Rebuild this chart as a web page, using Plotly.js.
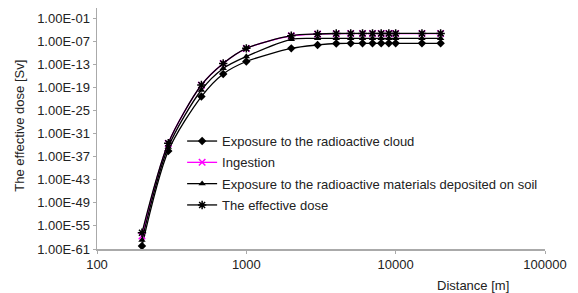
<!DOCTYPE html>
<html>
<head>
<meta charset="utf-8">
<script src="https://cdn.plot.ly/plotly-3.0.1.min.js"></script>
<style>html,body{margin:0;padding:0;background:#fff;}#chart{width:578px;height:293px;}</style>
</head>
<body>
<div id="chart"></div>
<script>
const distance = [200, 300, 500, 700, 1000, 2000, 3000, 4000, 5000, 6000, 7000, 8000, 9000, 10000, 15000, 20000];
const cloud = [6e-61, 3e-36, 4e-22, 3e-16, 5e-13, 1.3e-9, 1e-8, 2.4e-8, 2.6e-8, 2.7e-8, 2.7e-8, 2.7e-8, 2.7e-8, 2.7e-8, 2.7e-8, 2.7e-8];
const ingestion = [2.5e-58, 2.5e-34, 3.5e-19, 1.5e-13, 1.2e-9, 2.3e-6, 6.5e-6, 8.5e-6, 9e-6, 9e-6, 9e-6, 9e-6, 9e-6, 9e-6, 9e-6, 9e-6];
const soil = [2e-59, 3e-35, 2e-20, 8e-15, 1e-11, 3e-7, 5e-7, 5.4e-7, 5.4e-7, 5.4e-7, 5.4e-7, 5.4e-7, 5.4e-7, 5.4e-7, 5.4e-7, 5.4e-7];
const effective = [1.6e-57, 3e-34, 4e-19, 1.6e-13, 1.3e-9, 2.6e-6, 7e-6, 9.5e-6, 1e-5, 1e-5, 1e-5, 1e-5, 1e-5, 1e-5, 1e-5, 1e-5];
const seriesNames = ["Exposure to the radioactive cloud", "Ingestion", "Exposure to the radioactive materials deposited on soil", "The effective dose"];
const yTickVals = [1e-61, 1e-55, 1e-49, 1e-43, 1e-37, 1e-31, 1e-25, 1e-19, 1e-13, 1e-7, 1e-1];
const yTickText = ["1.00E-61", "1.00E-55", "1.00E-49", "1.00E-43", "1.00E-37", "1.00E-31", "1.00E-25", "1.00E-19", "1.00E-13", "1.00E-07", "1.00E-01"];
const xTickVals = [100, 1000, 10000, 100000];
const xTickText = ["100", "1000", "10000", "100000"];

const FONT = "Liberation Sans, Arial, sans-serif";
function tr(y, name, color, symbol, size, group) {
  return {
    x: distance, y: y, name: name, type: "scatter", mode: "lines+markers",
    line: {color: color, width: 1.3, shape: "spline", smoothing: 0.8},
    marker: {symbol: symbol, size: size, color: color, line: {color: color, width: symbol.indexOf("x")===0 || symbol.indexOf("asterisk")===0 ? 1.5 : 0}},
    legendgroup: group
  };
}
const data = [
  tr(cloud, seriesNames[0], "#000000", "diamond", 6.5, "a"),
  tr(ingestion, seriesNames[1], "#ff00ff", "x-thin-open", 6.5, "b"),
  tr(soil, seriesNames[2], "#000000", "triangle-up", 6.5, "c"),
  tr(effective, seriesNames[3], "#000000", "asterisk-open", 7, "d")
];
const layout = {
  width: 578, height: 293,
  margin: {l: 97, r: 33, t: 8, b: 44, pad: 0},
  paper_bgcolor: "#fff", plot_bgcolor: "#fff",
  font: {family: FONT, size: 13, color: "#222"},
  showlegend: true,
  legend: {x: 0.19, xanchor: "left", y: 0.51, yanchor: "top", bgcolor: "rgba(0,0,0,0)",
           font: {family: FONT, size: 13, color: "#222"}, tracegroupgap: 1.4, itemwidth: 30},
  xaxis: {type: "log", range: [2, 5], tickvals: xTickVals, ticktext: xTickText,
          showline: true, linecolor: "#aaaaaa", linewidth: 1.5, ticks: "outside", ticklen: 3, tickcolor: "#aaaaaa",
          showgrid: false, zeroline: false, tickfont: {size: 13, color: "#222"}},
  yaxis: {type: "log", range: [-61, 1.6], tickvals: yTickVals, ticktext: yTickText,
          showline: true, linecolor: "#aaaaaa", linewidth: 1.5, ticks: "outside", ticklen: 3, tickcolor: "#aaaaaa",
          showgrid: false, zeroline: false, tickfont: {size: 13, color: "#222"}},
  annotations: [
    {text: "Distance [m]", xref: "paper", yref: "paper", x: 0.84, y: -0.15, xanchor: "center", yanchor: "middle", showarrow: false, font: {size: 13, color: "#222"}},
    {text: "The effective dose [Sv]", xref: "paper", yref: "paper", x: -0.175, y: 0.51, xanchor: "center", yanchor: "middle", textangle: -90, showarrow: false, font: {size: 13, color: "#222"}}
  ]
};
Plotly.newPlot("chart", data, layout, {displayModeBar: false, staticPlot: true});
</script>
</body>
</html>
